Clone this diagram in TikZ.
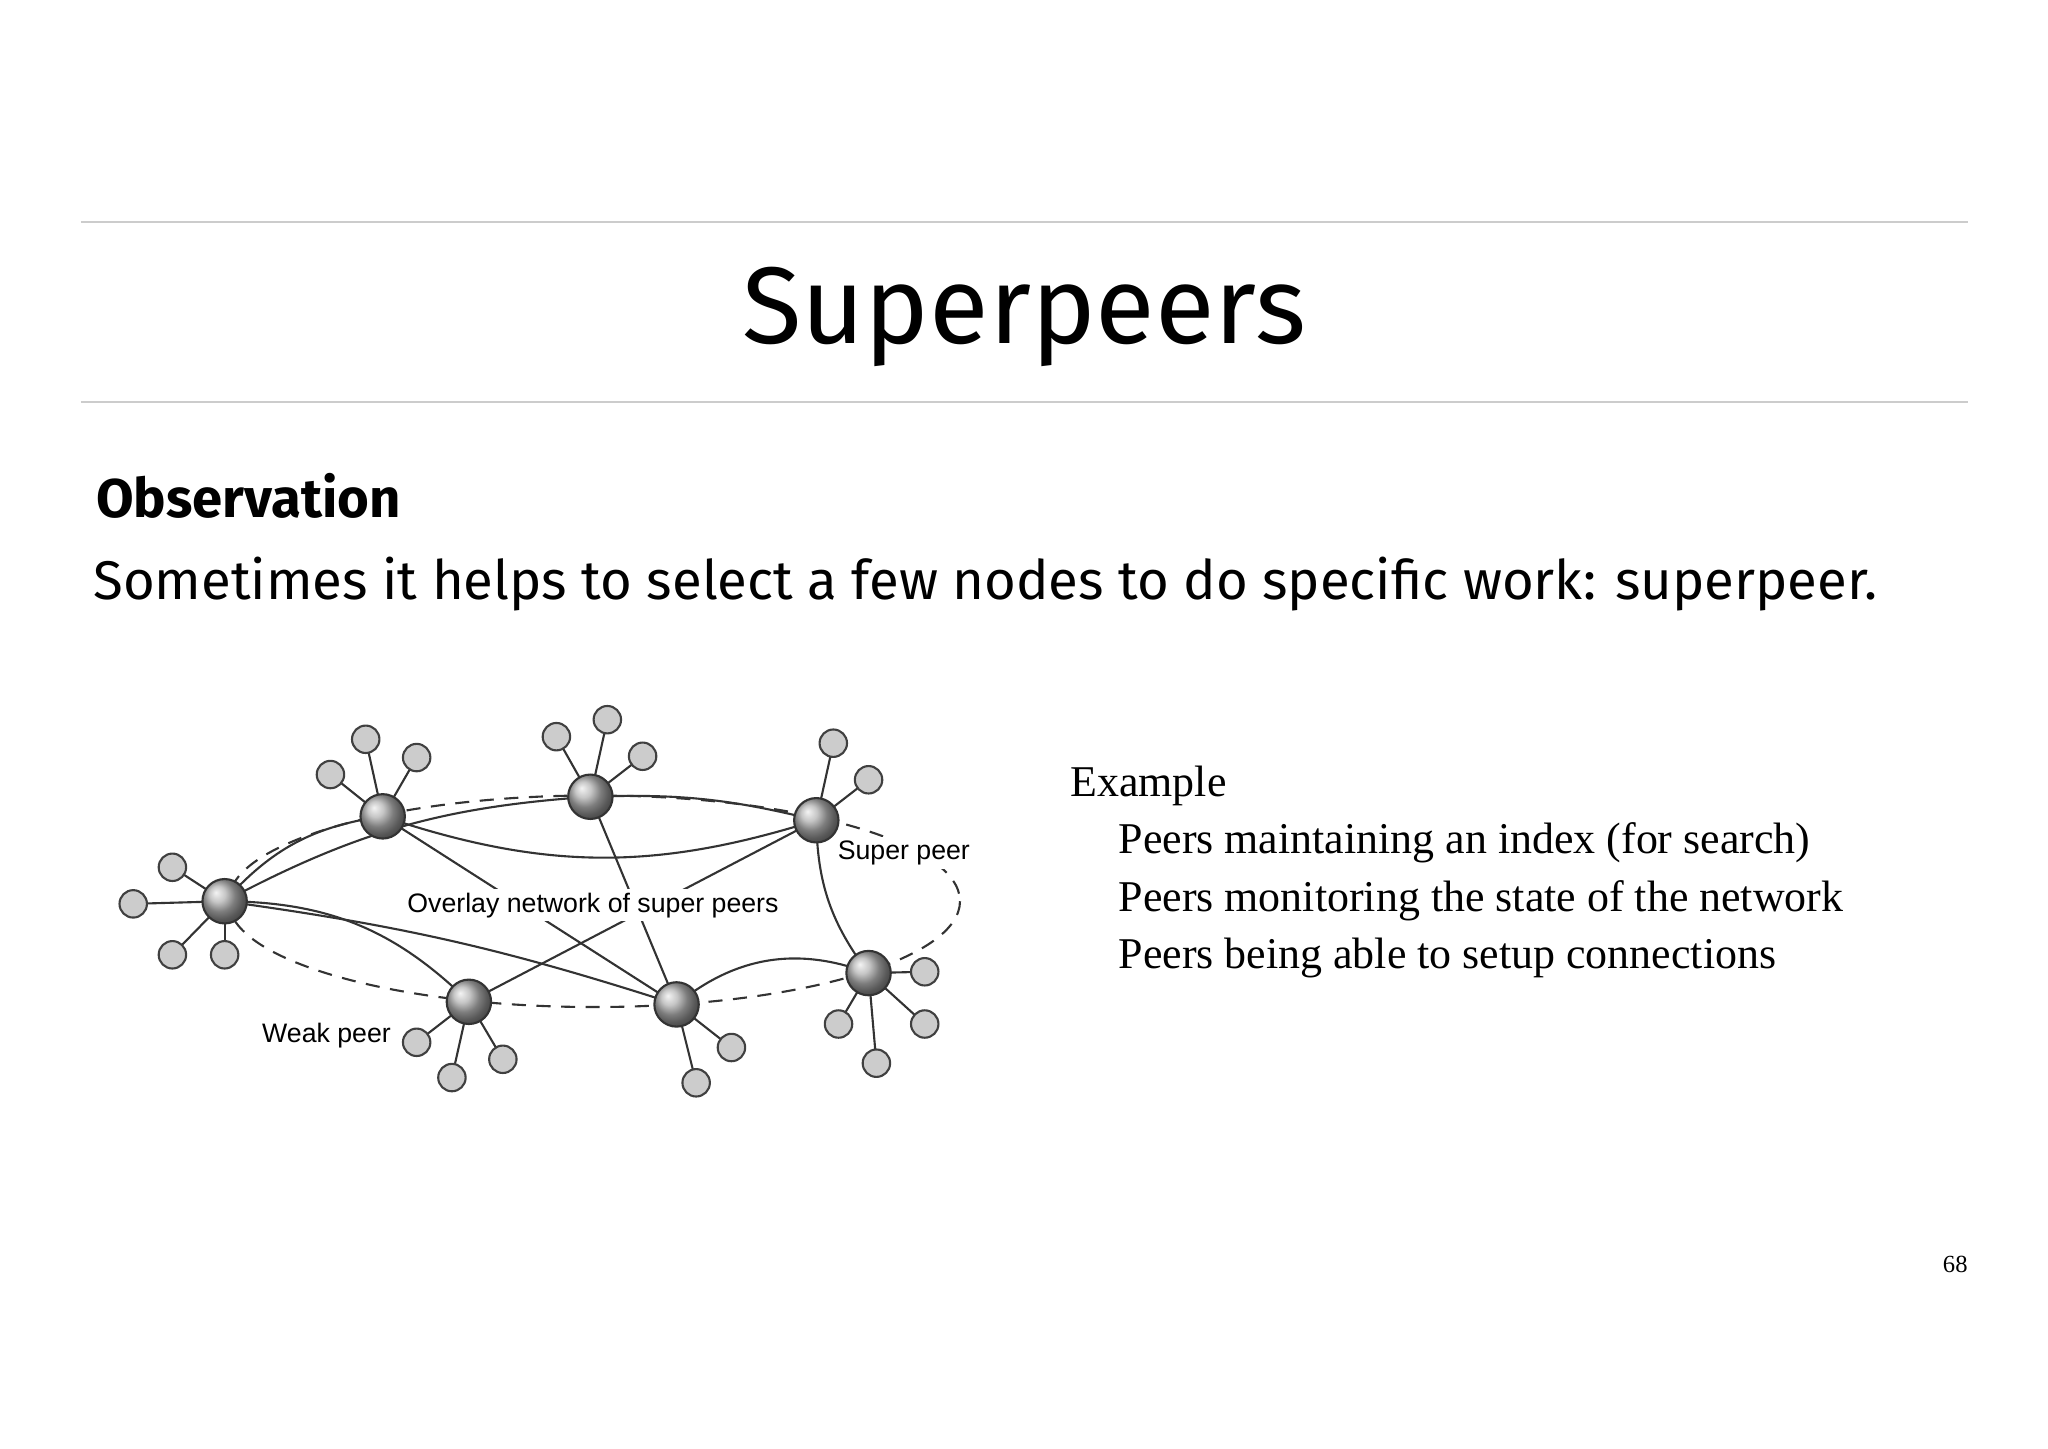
\documentclass[tikz,border=0pt]{standalone}
\usepackage{fontspec}
\setmainfont{Liberation Serif}
\newfontfamily\hfont{Fira Sans}
\newfontfamily\lfont{Liberation Sans}
\begin{document}
\begin{tikzpicture}[x=0.01306cm,y=-0.01306cm,
  sp/.style={circle,draw=black!80,line width=0.6pt,inner sep=0pt,minimum size=34*0.01306cm,ball color=gray!60},
  wp/.style={circle,draw=black!75,line width=0.6pt,fill=gray!40,inner sep=0pt,minimum size=21*0.01306cm},
  ln/.style={line width=0.6pt,draw=black!80}]
\useasboundingbox (0,0) rectangle (1568,1109);
\draw[gray!40,line width=0.5pt] (62,170) -- (1507,170);
\draw[gray!40,line width=0.5pt] (62,308) -- (1507,308);
\node[font=\hfont\fontsize{31}{36}\selectfont] (title) at (784,243) {Superpeers};
\node[anchor=west,font=\hfont\bfseries\fontsize{15.5}{18}\selectfont] (obs) at (64,380) {Observation};
\node[anchor=west,font=\hfont\fontsize{15.5}{18}\selectfont] (sent) at (62,447) {Sometimes it helps to select a few nodes to do specific work: superpeer.};
\node[anchor=north west,align=left,font=\fontsize{12.5}{16.3}\selectfont] (ex) at (810,577) {Example\\\hspace*{1.1em}Peers maintaining an index (for search)\\\hspace*{1.1em}Peers monitoring the state of the network\\\hspace*{1.1em}Peers being able to setup connections};
\node[font=\fontsize{7}{8}\selectfont] (pg) at (1497,968) {68};
% ellipse
\draw[ln,dashed,dash pattern=on 4pt off 3pt] (455,690) ellipse (280 and 81);
% super peers positions
\coordinate (A) at (172,690); \coordinate (B) at (293,625); \coordinate (C) at (452,610);
\coordinate (D) at (625,628); \coordinate (E) at (665,745); \coordinate (F) at (518,769); \coordinate (G) at (359,767);
% weak peers
\foreach \p/\s/\n in {132/664/a1,102/692/a2,132/731/a3,172/731/a4}{\draw[ln] (A) -- (\p,\s); \node[wp] (\n) at (\p,\s) {};}
\foreach \p/\s/\n in {253/593/b1,280/566/b2,319/580/b3}{\draw[ln] (B) -- (\p,\s); \node[wp] (\n) at (\p,\s) {};}
\foreach \p/\s/\n in {426/564/c1,465/551/c2,492/579/c3}{\draw[ln] (C) -- (\p,\s); \node[wp] (\n) at (\p,\s) {};}
\foreach \p/\s/\n in {638/569/d1,665/597/d2}{\draw[ln] (D) -- (\p,\s); \node[wp] (\n) at (\p,\s) {};}
\foreach \p/\s/\n in {708/744/e1,642/784/e2,671/814/e3,708/784/e4}{\draw[ln] (E) -- (\p,\s); \node[wp] (\n) at (\p,\s) {};}
\foreach \p/\s/\n in {560/802/f1,533/829/f2}{\draw[ln] (F) -- (\p,\s); \node[wp] (\n) at (\p,\s) {};}
\foreach \p/\s/\n in {319/798/g1,346/825/g2,385/811/g3}{\draw[ln] (G) -- (\p,\s); \node[wp] (\n) at (\p,\s) {};}
% overlay edges
\draw[ln] (A) to[bend left=20] (B);
\draw[ln] (A) to[bend left=12] (C);
\draw[ln] (A) to[bend left=22] (G);
\draw[ln] (A) to[bend left=5] (F);
\draw[ln] (B) to[bend right=18] (D);
\draw[ln] (B) -- (F);
\draw[ln] (C) to[bend left=8] (D);
\draw[ln] (C) -- (F);
\draw[ln] (D) -- (G);
\draw[ln] (D) to[bend right=18] (E);
\draw[ln] (F) to[bend left=30] (E);
\node[sp] (nA) at (A) {}; \node[sp] (nB) at (B) {}; \node[sp] (nC) at (C) {};
\node[sp] (nD) at (D) {}; \node[sp] (nE) at (E) {}; \node[sp] (nF) at (F) {}; \node[sp] (nG) at (G) {};
\node[fill=white,inner sep=1pt,font=\lfont\fontsize{7.6}{9}\selectfont] (ov) at (454,693) {Overlay network of super peers};
\node[fill=white,inner sep=1pt,font=\lfont\fontsize{7.6}{9}\selectfont] (spl) at (692,653) {Super peer};
\node[fill=white,inner sep=1pt,font=\lfont\fontsize{7.6}{9}\selectfont] (wpl) at (250,793) {Weak peer};
\end{tikzpicture}
\end{document}
